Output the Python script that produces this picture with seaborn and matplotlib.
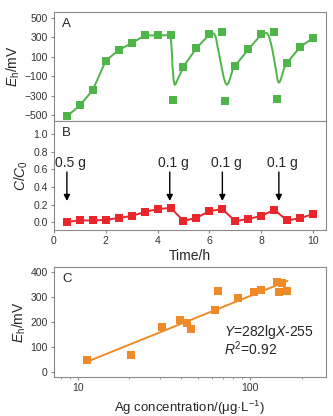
import matplotlib
matplotlib.use("Agg")
import matplotlib.pyplot as plt
import seaborn as sns
import pandas as pd
from matplotlib.ticker import LogLocator, NullFormatter, FixedLocator

# ---- panel A : Eh vs time ----
t_a = [0.5, 1.0, 1.5, 2.0, 2.5, 3.0, 3.5, 4.0, 4.5, 5.0,
       5.5, 6.0, 6.5, 7.0, 7.5, 8.0, 8.5, 9.0, 9.5, 10.0]
eh_a = [-510, -400, -240, 60, 170, 240, 320, 320, 320, 0,
        190, 330, 355, 10, 176, 330, 355, 40, 200, 295]
# low readings right after each dose
t_low = [4.58, 6.59, 8.59]
eh_low = [-345, -350, -338]
# smoothed trace
t_curve = [0.5, 1.0, 1.5, 2.0, 2.5, 3.0, 3.5, 4.0, 4.48, 4.52, 4.55, 4.58, 4.62,
           4.66, 4.7, 4.76, 4.89, 5.0, 5.5, 6.0, 6.1, 6.18, 6.25, 6.31, 6.38,
           6.44, 6.5, 6.56, 6.62, 6.67, 6.71, 6.76, 6.89, 7.0, 7.5, 8.0, 8.1,
           8.22, 8.3, 8.37, 8.44, 8.5, 8.55, 8.59, 8.63, 8.67, 8.71, 8.75,
           8.88, 9.0, 9.5, 10.0]
eh_curve = [-510, -400, -240, 60, 170, 240, 320, 320, 322, 270, 150, -20, -140,
            -188, -180, -140, -65, 0, 190, 330, 340, 338, 300, 210, 120,
            36, -45, -119, -170, -188, -180, -153, -40, 10, 176, 330, 342,
            345, 310, 242, 160, 70, -10, -67, -140, -165, -160, -136,
            -20, 40, 200, 295]

# ---- panel B : C/C0 vs time ----
t_b = t_a
c_ratio = [0.004, 0.019, 0.019, 0.026, 0.048, 0.07, 0.115, 0.148, 0.163, 0.015,
           0.048, 0.126, 0.148, 0.011, 0.037, 0.07, 0.14, 0.02, 0.044, 0.093]
dose_t = [0.5, 4.47, 6.5, 8.68]
dose_lbl = ["0.5 g", "0.1 g", "0.1 g", "0.1 g"]

# ---- panel C : Eh vs Ag concentration ----
ag = [11.4, 20.3, 31.0, 39.4, 42.9, 45.5, 62.6, 65.5, 85.5, 105.8, 115.8,
      143, 153, 148, 165]
eh_c = [46, 66, 181, 208, 197, 171, 248, 325, 298, 322, 327, 359, 358, 322, 325]

green = "#4fb548"
red = "#e8262c"
orange = "#f08a26"
spine_c = "#8a8a8a"

sns.set_style("ticks")
plt.rcParams["font.family"] = ["Liberation Sans", "DejaVu Sans"]
plt.rcParams["mathtext.fontset"] = "custom"
plt.rcParams["mathtext.rm"] = "Liberation Sans"
plt.rcParams["mathtext.it"] = "Liberation Sans:italic"
plt.rcParams["xtick.major.size"] = 2.5
plt.rcParams["ytick.major.size"] = 2.5
plt.rcParams["xtick.minor.size"] = 1.5

fig = plt.figure(figsize=(3.33, 4.16), dpi=100)
axA = fig.add_axes([0.162, 0.709, 0.817, 0.262])
axB = fig.add_axes([0.162, 0.447, 0.817, 0.262])
axC = fig.add_axes([0.162, 0.094, 0.817, 0.264])


def style(ax):
    for s in ax.spines.values():
        s.set_visible(True)
        s.set_color(spine_c)
        s.set_linewidth(0.8)
    ax.tick_params(colors=spine_c, labelcolor="#333333", labelsize=7.5,
                   width=0.8, pad=2)
    ax.tick_params(which="minor", colors=spine_c, width=0.6)


# A
dfa = pd.DataFrame({"t": t_curve, "eh": eh_curve})
sns.lineplot(data=dfa, x="t", y="eh", ax=axA, color=green, lw=1.4, sort=False)
sns.scatterplot(x=t_a + t_low, y=eh_a + eh_low, ax=axA, color=green, marker="s",
                s=30, linewidth=0, zorder=3)
axA.set_xlim(0, 10.5)
axA.set_ylim(-560, 560)
axA.set_yticks([-500, -300, -100, 100, 300, 500])
axA.set_xticks([])
axA.set_xlabel("")
axA.set_ylabel(r"$E_\mathrm{h}$/mV", fontsize=10, labelpad=2)
axA.text(0.03, 0.86, "A", transform=axA.transAxes, fontsize=9.5)
style(axA)

# B
dfb = pd.DataFrame({"t": t_b, "c": c_ratio})
sns.lineplot(data=dfb, x="t", y="c", ax=axB, color=red, lw=1.4, marker="s",
             markersize=5.5, markeredgewidth=0)
for x, lab in zip(dose_t, dose_lbl):
    axB.annotate("", xy=(x, 0.24), xytext=(x, 0.57),
                 arrowprops=dict(arrowstyle="-|>", color="black", lw=1.0,
                                 mutation_scale=9, shrinkA=0, shrinkB=0))
    axB.text(x - 0.45, 0.675, lab, fontsize=10, ha="left", va="center")
axB.set_xlim(0, 10.5)
axB.set_ylim(-0.09, 1.15)
axB.set_yticks([0.0, 0.2, 0.4, 0.6, 0.8, 1.0])
axB.set_xticks([0, 2, 4, 6, 8, 10])
axB.set_xlabel("Time/h", fontsize=10, labelpad=2)
axB.set_ylabel(r"$C/C_0$", fontsize=10, labelpad=2)
axB.text(0.03, 0.86, "B", transform=axB.transAxes, fontsize=9.5)
style(axB)

# C
axC.set_xscale("log")
dfc = pd.DataFrame({"ag": ag, "eh": eh_c})
sns.regplot(data=dfc, x="ag", y="eh", ax=axC, logx=True, ci=None, color=orange,
            marker="s", scatter_kws={"s": 34, "linewidths": 0, "alpha": 1},
            line_kws={"lw": 1.4})
axC.set_xlim(7.3, 276)
axC.set_ylim(-20, 420)
axC.set_yticks([0, 100, 200, 300, 400])
axC.xaxis.set_major_locator(FixedLocator([10, 100]))
axC.set_xticklabels(["10", "100"])
axC.xaxis.set_minor_locator(LogLocator(base=10, subs=range(2, 10)))
axC.xaxis.set_minor_formatter(NullFormatter())
axC.set_xlabel(r"Ag concentration/(μg·L$^{-1}$)", fontsize=9.5, labelpad=4)
axC.set_ylabel(r"$E_\mathrm{h}$/mV", fontsize=10, labelpad=2)
axC.text(0.03, 0.86, "C", transform=axC.transAxes, fontsize=9.5)
axC.text(0.625, 0.41, r"$Y$=282lg$X$-255", transform=axC.transAxes,
         fontsize=10, va="center")
axC.text(0.625, 0.257, r"$R^2$=0.92", transform=axC.transAxes, fontsize=10,
         va="center")
style(axC)

fig.savefig("out.png", dpi=100)
